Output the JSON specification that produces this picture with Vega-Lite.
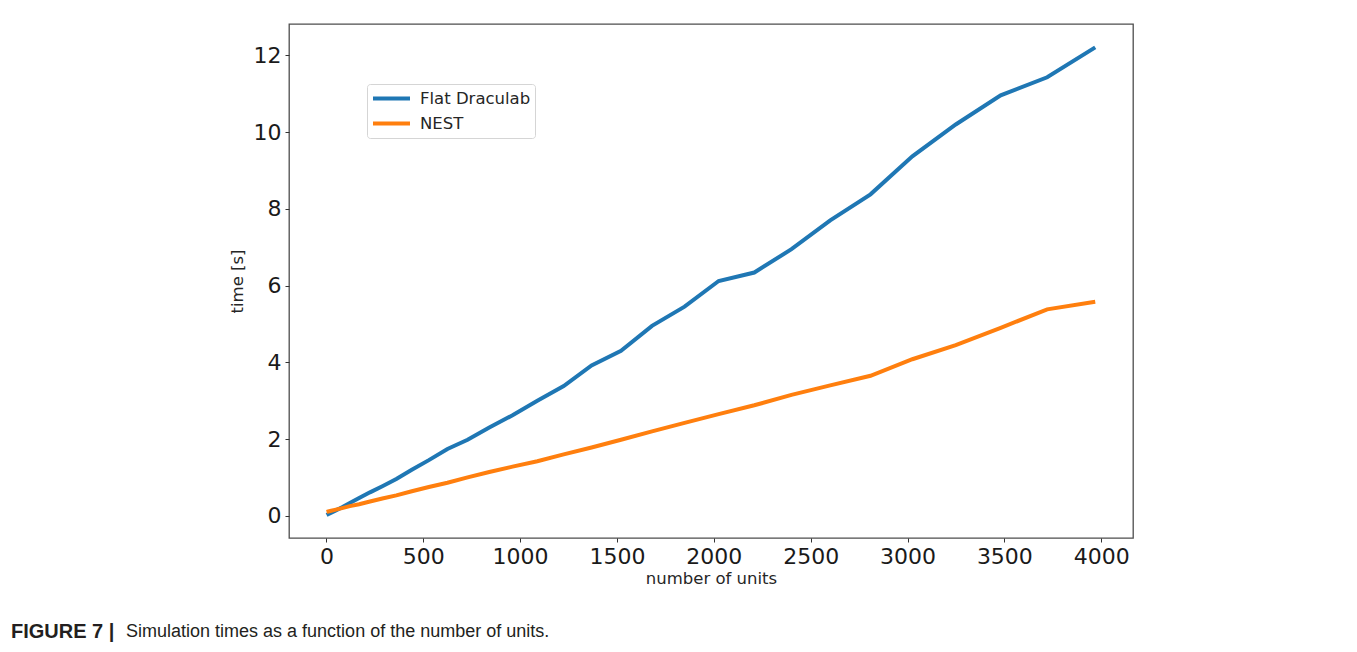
{
  "$schema": "https://vega.github.io/schema/vega-lite/v6.json",
  "width": 844,
  "height": 514,
  "autosize": {"type": "none"},
  "padding": {"left": 289, "top": 24, "right": 224, "bottom": 114},
  "background": "white",
  "title": {
    "text": "FIGURE 7 |",
    "subtitle": "\u200b\u00a0\u00a0\u00a0\u00a0\u00a0\u00a0\u00a0\u00a0\u00a0\u00a0\u00a0\u00a0\u00a0\u00a0\u00a0\u00a0\u00a0\u00a0\u00a0\u00a0\u00a0\u00a0\u00a0Simulation times as a function of the number of units.",
    "orient": "bottom",
    "anchor": "start",
    "frame": "group",
    "dx": -278,
    "offset": 35,
    "font": "Liberation Sans",
    "fontSize": 20,
    "fontWeight": "bold",
    "color": "#231f20",
    "subtitleFont": "Liberation Sans",
    "subtitleFontSize": 18,
    "subtitleFontWeight": "normal",
    "subtitleColor": "#231f20",
    "subtitlePadding": -18.4
  },
  "data": {
    "values": [
      {"units": 1, "time": 0.02, "series": "Flat Draculab"},
      {"units": 9, "time": 0.04, "series": "Flat Draculab"},
      {"units": 25, "time": 0.08, "series": "Flat Draculab"},
      {"units": 49, "time": 0.14, "series": "Flat Draculab"},
      {"units": 81, "time": 0.22, "series": "Flat Draculab"},
      {"units": 121, "time": 0.33, "series": "Flat Draculab"},
      {"units": 169, "time": 0.46, "series": "Flat Draculab"},
      {"units": 225, "time": 0.61, "series": "Flat Draculab"},
      {"units": 289, "time": 0.77, "series": "Flat Draculab"},
      {"units": 361, "time": 0.96, "series": "Flat Draculab"},
      {"units": 441, "time": 1.2, "series": "Flat Draculab"},
      {"units": 529, "time": 1.45, "series": "Flat Draculab"},
      {"units": 625, "time": 1.74, "series": "Flat Draculab"},
      {"units": 729, "time": 1.98, "series": "Flat Draculab"},
      {"units": 841, "time": 2.3, "series": "Flat Draculab"},
      {"units": 961, "time": 2.62, "series": "Flat Draculab"},
      {"units": 1089, "time": 3.0, "series": "Flat Draculab"},
      {"units": 1225, "time": 3.38, "series": "Flat Draculab"},
      {"units": 1369, "time": 3.92, "series": "Flat Draculab"},
      {"units": 1521, "time": 4.3, "series": "Flat Draculab"},
      {"units": 1681, "time": 4.95, "series": "Flat Draculab"},
      {"units": 1849, "time": 5.45, "series": "Flat Draculab"},
      {"units": 2025, "time": 6.12, "series": "Flat Draculab"},
      {"units": 2209, "time": 6.34, "series": "Flat Draculab"},
      {"units": 2401, "time": 6.95, "series": "Flat Draculab"},
      {"units": 2601, "time": 7.7, "series": "Flat Draculab"},
      {"units": 2809, "time": 8.38, "series": "Flat Draculab"},
      {"units": 3025, "time": 9.37, "series": "Flat Draculab"},
      {"units": 3249, "time": 10.2, "series": "Flat Draculab"},
      {"units": 3481, "time": 10.96, "series": "Flat Draculab"},
      {"units": 3721, "time": 11.43, "series": "Flat Draculab"},
      {"units": 3969, "time": 12.21, "series": "Flat Draculab"},
      {"units": 1, "time": 0.1, "series": "NEST"},
      {"units": 9, "time": 0.11, "series": "NEST"},
      {"units": 25, "time": 0.13, "series": "NEST"},
      {"units": 49, "time": 0.16, "series": "NEST"},
      {"units": 81, "time": 0.2, "series": "NEST"},
      {"units": 121, "time": 0.25, "series": "NEST"},
      {"units": 169, "time": 0.3, "series": "NEST"},
      {"units": 225, "time": 0.37, "series": "NEST"},
      {"units": 289, "time": 0.45, "series": "NEST"},
      {"units": 361, "time": 0.53, "series": "NEST"},
      {"units": 441, "time": 0.64, "series": "NEST"},
      {"units": 529, "time": 0.75, "series": "NEST"},
      {"units": 625, "time": 0.86, "series": "NEST"},
      {"units": 729, "time": 1.0, "series": "NEST"},
      {"units": 841, "time": 1.14, "series": "NEST"},
      {"units": 961, "time": 1.28, "series": "NEST"},
      {"units": 1089, "time": 1.42, "series": "NEST"},
      {"units": 1225, "time": 1.6, "series": "NEST"},
      {"units": 1369, "time": 1.78, "series": "NEST"},
      {"units": 1521, "time": 1.98, "series": "NEST"},
      {"units": 1681, "time": 2.2, "series": "NEST"},
      {"units": 1849, "time": 2.42, "series": "NEST"},
      {"units": 2025, "time": 2.65, "series": "NEST"},
      {"units": 2209, "time": 2.88, "series": "NEST"},
      {"units": 2401, "time": 3.15, "series": "NEST"},
      {"units": 2601, "time": 3.4, "series": "NEST"},
      {"units": 2809, "time": 3.65, "series": "NEST"},
      {"units": 3025, "time": 4.08, "series": "NEST"},
      {"units": 3249, "time": 4.45, "series": "NEST"},
      {"units": 3481, "time": 4.9, "series": "NEST"},
      {"units": 3721, "time": 5.38, "series": "NEST"},
      {"units": 3969, "time": 5.58, "series": "NEST"}
    ]
  },
  "mark": {"type": "line", "strokeWidth": 4, "clip": true},
  "encoding": {
    "x": {
      "field": "units",
      "type": "quantitative",
      "scale": {"domain": [-193, 4164], "nice": false, "zero": false},
      "axis": {
        "title": "number of units",
        "values": [0, 500, 1000, 1500, 2000, 2500, 3000, 3500, 4000],
        "format": "d",
        "titlePadding": 3
      }
    },
    "y": {
      "field": "time",
      "type": "quantitative",
      "scale": {"domain": [-0.58, 12.82], "nice": false, "zero": false},
      "axis": {
        "title": "time [s]",
        "values": [0, 2, 4, 6, 8, 10, 12],
        "format": "d",
        "titlePadding": 8
      }
    },
    "color": {
      "field": "series",
      "type": "nominal",
      "scale": {"domain": ["Flat Draculab", "NEST"], "range": ["#1f77b4", "#ff7f0e"]},
      "legend": {
        "title": null,
        "orient": "none",
        "legendX": 78,
        "legendY": 60,
        "symbolType": "stroke",
        "symbolSize": 1369,
        "symbolStrokeWidth": 4,
        "clipHeight": 21,
        "rowPadding": 4,
        "labelOffset": 8,
        "labelFont": "DejaVu Sans",
        "labelFontSize": 16.5,
        "labelColor": "#262626",
        "padding": 4,
        "strokeColor": "#d5d5d5",
        "fillColor": "white",
        "cornerRadius": 3
      }
    }
  },
  "config": {
    "view": {"stroke": "#4d4d4d", "strokeWidth": 1.3},
    "axis": {
      "domain": false,
      "grid": false,
      "ticks": true,
      "tickSize": 4,
      "tickColor": "#333333",
      "tickWidth": 1,
      "labelFont": "DejaVu Sans",
      "labelFontSize": 22,
      "labelColor": "#1a1a1a",
      "labelPadding": 4,
      "titleFont": "DejaVu Sans",
      "titleFontSize": 16.5,
      "titleFontWeight": "normal",
      "titleColor": "#262626"
    }
  }
}
